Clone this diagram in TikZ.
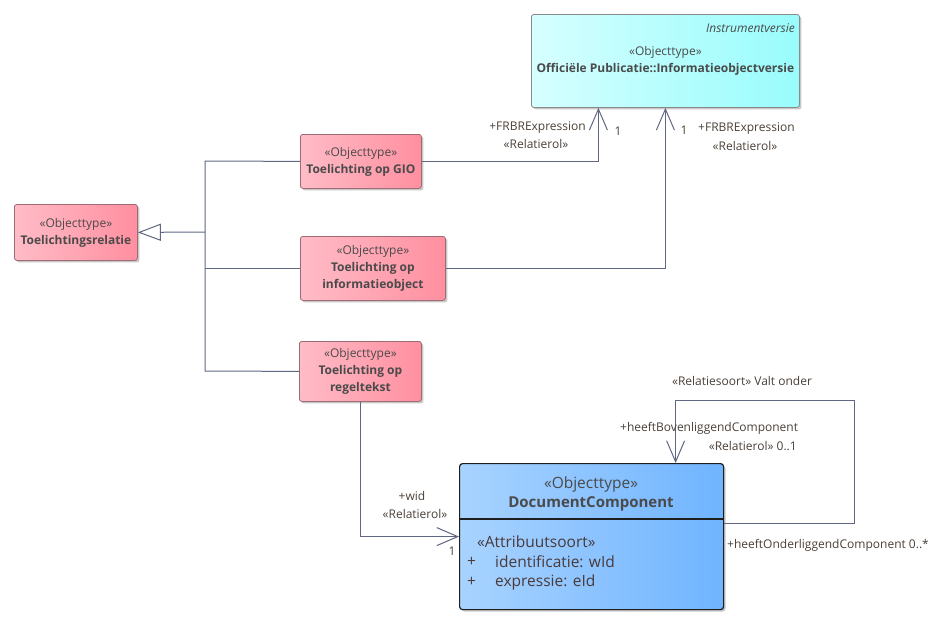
\documentclass[tikz,border=0pt]{standalone}
\usepackage{fontspec}
\setmainfont{Open Sans}
\usetikzlibrary{arrows.meta,shadows}
\definecolor{linec}{HTML}{5F6782}
\definecolor{pinkL}{HTML}{FFBCC7}
\definecolor{pinkR}{HTML}{FF8FA0}
\definecolor{pinkB}{HTML}{9C6B73}
\definecolor{cyanL}{HTML}{D6FFFF}
\definecolor{cyanR}{HTML}{99FCFC}
\definecolor{cyanB}{HTML}{8A8A8A}
\definecolor{blueL}{HTML}{A8D3FF}
\definecolor{blueR}{HTML}{70B4FF}
\definecolor{blueB}{HTML}{1E1E1E}
\definecolor{txt}{HTML}{4A4A4A}
\definecolor{lbl}{HTML}{4A4038}
\definecolor{attr}{HTML}{4A3A3A}
\begin{document}
\begin{tikzpicture}[x=1pt,y=-1pt,
  shad/.style={drop shadow={shadow xshift=2pt,shadow yshift=-2pt,opacity=0.22,fill=black}},
  pinkbox/.style={shad,draw=pinkB,line width=0.8pt,rounded corners=2.5pt,left color=pinkL,right color=pinkR,
    inner sep=0pt,align=center,anchor=north west,text=txt,font=\fontsize{12}{17}\selectfont},
  cyanbox/.style={shad,draw=cyanB,line width=0.8pt,rounded corners=2.5pt,left color=cyanL,right color=cyanR,
    inner sep=0pt,align=center,anchor=north west,text=txt,font=\fontsize{12}{17}\selectfont},
  bluebox/.style={shad,draw=blueB,line width=1.2pt,rounded corners=3pt,left color=blueL,right color=blueR,
    inner sep=0pt,anchor=north west},
  conn/.style={draw=linec,line width=1pt},
  assoc/.style={conn,-{Straight Barb[length=21pt,width=18pt,line width=1pt]}},
  gen/.style={conn,-{Triangle[length=23pt,width=17pt,fill=white,line width=1pt]}},
  lab/.style={text=lbl,inner sep=0pt,font=\fontsize{12}{15}\selectfont},
  dctxt/.style={text=txt,inner sep=0pt,font=\fontsize{15.5}{18}\selectfont},
  attrtxt/.style={text=attr,inner sep=0pt,anchor=west,font=\fontsize{15.5}{18}\selectfont}
]
\useasboundingbox (0,0) rectangle (941,624);

% boxes
\node[cyanbox,minimum width=268pt,minimum height=93pt] (inst) at (531,14)
  {«Objecttype»\\\textbf{Officiële Publicatie::Informatieobjectversie}};
\node[text=txt,inner sep=0pt,anchor=east,font=\fontsize{12}{15}\selectfont\itshape] (instlab) at (795,28) {Instrumentversie};

\node[pinkbox,minimum width=123pt,minimum height=56pt] (rel) at (14,204)
  {«Objecttype»\\\textbf{Toelichtingsrelatie}};
\node[pinkbox,minimum width=121pt,minimum height=54pt] (gio) at (300,134)
  {«Objecttype»\\\textbf{Toelichting op GIO}};
\node[pinkbox,minimum width=145pt,minimum height=64pt] (info) at (300,236)
  {«Objecttype»\\\textbf{Toelichting op}\\\textbf{informatieobject}};
\node[pinkbox,minimum width=122pt,minimum height=60pt] (regel) at (299,341)
  {«Objecttype»\\\textbf{Toelichting op}\\\textbf{regeltekst}};

\node[bluebox,minimum width=264pt,minimum height=146pt] (dc) at (459,463) {};
\coordinate (dcl) at (459,519);
\coordinate (dcr) at (723,519);
\draw[draw=blueB,line width=1.2pt] (dcl) -- (dcr);
\node[dctxt] (dcst) at (591,484) {«Objecttype»};
\node[dctxt,font=\fontsize{15}{18}\selectfont\bfseries] (dcname) at (591,504) {DocumentComponent};
\node[attrtxt] (attrst) at (477,542) {«Attribuutsoort»};
\node[attrtxt] (p1) at (467,562) {+};
\node[attrtxt] (a1) at (495,562) {identificatie: wId};
\node[attrtxt] (p2) at (467,582) {+};
\node[attrtxt] (a2) at (495,582) {expressie: eId};

% generalization tree
\coordinate (jt) at (205,161);
\coordinate (j) at (205,232);
\coordinate (jb) at (205,371);
\draw[conn] (gio.west) -- (jt) -- (jb) -- (regel.west);
\draw[conn] (info.west) -- (info.west -| jt);
\draw[gen] (j) -- (rel.east);

% associations
\draw[assoc] (gio.east) -| ([xshift=-67pt]inst.south);
\draw[assoc] (info.east) -| (inst.south);
\draw[assoc] (regel.south) |- (dc.west);
\coordinate (lr) at (854,400);
\draw[assoc] ([yshift=13pt]dc.east) -| (lr) -| ([xshift=84pt]dc.north);

% labels
\node[lab,anchor=east] (l1) at (586,128) {+FRBRExpression};
\node[lab] (l2) at (536,144) {«Relatierol»};
\node[lab] (l3) at (618,131) {1};
\node[lab] (l4) at (684,130) {1};
\node[lab,anchor=west] (l5) at (698,129) {+FRBRExpression};
\node[lab] (l6) at (745,146) {«Relatierol»};
\node[lab] (l7) at (412,496) {+wid};
\node[lab] (l8) at (415,514) {«Relatierol»};
\node[lab] (l9) at (452,551) {1};
\node[lab] (l10) at (742,381) {«Relatiesoort» Valt onder};
\node[lab,anchor=west] (l11) at (620,428) {+heeftBovenliggendComponent};
\node[lab,anchor=east] (l12) at (797,446) {«Relatierol» 0..1};
\node[lab,anchor=west] (l13) at (727,545) {+heeftOnderliggendComponent 0..*};
\end{tikzpicture}
\end{document}
